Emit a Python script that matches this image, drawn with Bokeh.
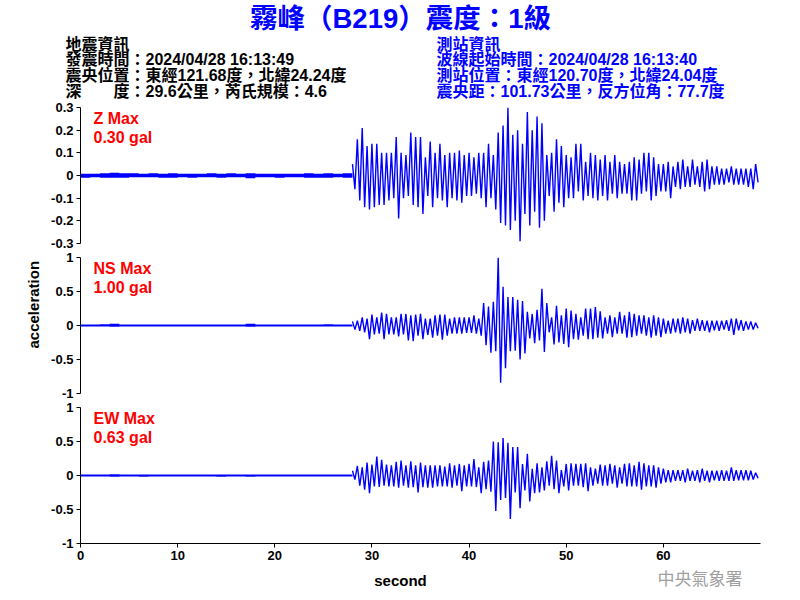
from bokeh.plotting import figure
from bokeh.layouts import column
from bokeh.models import FixedTicker, CustomJSTickFormatter, Label, Range1d, Title
from bokeh.core.properties import value
from bokeh.embed import file_html
from bokeh.resources import INLINE

# ---------------- texts ----------------
TITLE = "霧峰（B219）震度：1級"
QUAKE_INFO = ["地震資訊",
              "發震時間：2024/04/28 16:13:49",
              "震央位置：東經121.68度，北緯24.24度",
              "深　　度：29.6公里，芮氏規模：4.6"]
STATION_INFO = ["測站資訊",
                "波線起始時間：2024/04/28 16:13:40",
                "測站位置：東經120.70度，北緯24.04度",
                "震央距：101.73公里，反方位角：77.7度"]
AGENCY = "中央氣象署"
X_TITLE = "second"
Y_TITLE = "acceleration"

channels = ["Z", "NS", "EW"]
peak_gal = [0.30, 1.00, 0.63]
y_limits = [0.3, 1.0, 1.0]
y_ticks = [[-0.3, -0.2, -0.1, 0, 0.1, 0.2, 0.3],
           [-1, -0.5, 0, 0.5, 1],
           [-1, -0.5, 0, 0.5, 1]]
x_ticks = [0, 10, 20, 30, 40, 50, 60]
t_end = 70.0
onset = 28.0          # s, start of 0.5-s envelope bins
pre_bin = 1.0         # s, pre-event envelope bins
ev_bin = 0.5          # s, event envelope bins

# ---------------- pre-event noise envelope (1-s bins, 0..28 s) ----------------
z_pre_max = [0.008, 0.008, 0.010, 0.012, 0.010, 0.010, 0.008, 0.010, 0.008, 0.010,
             0.008, 0.008, 0.008, 0.010, 0.008, 0.010, 0.008, 0.010, 0.008, 0.008,
             0.008, 0.008, 0.008, 0.010, 0.008, 0.010, 0.008, 0.010]
z_pre_min = [-0.010, -0.008, -0.010, -0.010, -0.010, -0.008, -0.008, -0.008, -0.010, -0.010,
             -0.008, -0.010, -0.008, -0.008, -0.010, -0.008, -0.008, -0.012, -0.008, -0.008,
             -0.010, -0.008, -0.008, -0.010, -0.010, -0.010, -0.008, -0.010]
ns_pre_max = [0.015, 0.015, 0.020, 0.025, 0.015, 0.015, 0.015, 0.015, 0.015, 0.015,
              0.015, 0.015, 0.015, 0.015, 0.015, 0.015, 0.015, 0.025, 0.015, 0.015,
              0.015, 0.015, 0.015, 0.015, 0.015, 0.020, 0.015, 0.015]
ns_pre_min = [-0.015, -0.015, -0.015, -0.020, -0.015, -0.015, -0.015, -0.015, -0.015, -0.015,
              -0.015, -0.015, -0.015, -0.015, -0.015, -0.015, -0.015, -0.020, -0.015, -0.015,
              -0.015, -0.015, -0.015, -0.015, -0.015, -0.015, -0.015, -0.015]
ew_pre_max = [0.015, 0.015, 0.015, 0.020, 0.015, 0.015, 0.015, 0.015, 0.015, 0.015,
              0.015, 0.015, 0.015, 0.015, 0.015, 0.015, 0.015, 0.015, 0.015, 0.015,
              0.015, 0.015, 0.015, 0.015, 0.015, 0.015, 0.015, 0.015]
ew_pre_min = [-0.015, -0.015, -0.015, -0.020, -0.015, -0.015, -0.020, -0.015, -0.015, -0.015,
              -0.015, -0.015, -0.015, -0.015, -0.020, -0.015, -0.015, -0.020, -0.015, -0.015,
              -0.015, -0.015, -0.015, -0.015, -0.015, -0.015, -0.015, -0.015]

# ---------------- event envelope (0.5-s bins, 28..70 s) ----------------
z_max = [0.05, 0.16, 0.21, 0.13, 0.14, 0.14, 0.10, 0.10, 0.10, 0.17,
         0.10, 0.09, 0.19, 0.17, 0.17, 0.08, 0.15, 0.10, 0.14, 0.09,
         0.10, 0.10, 0.11, 0.09, 0.10, 0.08, 0.10, 0.10, 0.14, 0.09,
         0.19, 0.22, 0.30, 0.18, 0.20, 0.14, 0.28, 0.20, 0.26, 0.23,
         0.09, 0.10, 0.16, 0.13, 0.09, 0.08, 0.14, 0.14, 0.06, 0.10,
         0.09, 0.07, 0.09, 0.06, 0.09, 0.06, 0.05, 0.06, 0.08, 0.07,
         0.10, 0.10, 0.08, 0.05, 0.05, 0.06, 0.04, 0.06, 0.07, 0.04,
         0.07, 0.04, 0.06, 0.07, 0.04, 0.04, 0.03, 0.03, 0.04, 0.03,
         0.03, 0.03, 0.03, 0.05]
z_min = [-0.06, -0.11, -0.14, -0.15, -0.14, -0.13, -0.13, -0.11, -0.10, -0.19,
         -0.10, -0.09, -0.13, -0.14, -0.17, -0.09, -0.14, -0.10, -0.11, -0.14,
         -0.10, -0.11, -0.12, -0.09, -0.09, -0.08, -0.10, -0.14, -0.10, -0.15,
         -0.21, -0.22, -0.24, -0.20, -0.29, -0.17, -0.22, -0.16, -0.23, -0.20,
         -0.09, -0.16, -0.12, -0.14, -0.10, -0.10, -0.07, -0.11, -0.09, -0.10,
         -0.11, -0.09, -0.11, -0.08, -0.10, -0.08, -0.08, -0.11, -0.11, -0.08,
         -0.07, -0.11, -0.09, -0.07, -0.07, -0.10, -0.05, -0.06, -0.05, -0.05,
         -0.04, -0.05, -0.07, -0.06, -0.04, -0.04, -0.04, -0.03, -0.04, -0.04,
         -0.04, -0.05, -0.06, -0.03]
ns_max = [0.06, 0.07, 0.12, 0.10, 0.16, 0.12, 0.19, 0.17, 0.12, 0.12,
          0.17, 0.17, 0.15, 0.16, 0.17, 0.10, 0.10, 0.15, 0.16, 0.16,
          0.10, 0.12, 0.12, 0.12, 0.12, 0.15, 0.10, 0.33, 0.28, 0.35,
          1.00, 0.57, 0.42, 0.42, 0.38, 0.36, 0.20, 0.17, 0.23, 0.54,
          0.33, 0.12, 0.29, 0.15, 0.25, 0.22, 0.17, 0.12, 0.25, 0.25,
          0.27, 0.21, 0.12, 0.15, 0.12, 0.20, 0.15, 0.20, 0.17, 0.15,
          0.15, 0.12, 0.15, 0.12, 0.10, 0.07, 0.10, 0.10, 0.12, 0.10,
          0.08, 0.10, 0.08, 0.07, 0.07, 0.07, 0.07, 0.08, 0.10, 0.10,
          0.08, 0.06, 0.06, 0.04]
ns_min = [-0.06, -0.08, -0.10, -0.20, -0.13, -0.12, -0.20, -0.13, -0.13, -0.16,
          -0.13, -0.22, -0.23, -0.15, -0.20, -0.14, -0.18, -0.15, -0.21, -0.15,
          -0.12, -0.12, -0.12, -0.11, -0.11, -0.12, -0.15, -0.29, -0.40, -0.38,
          -0.84, -0.63, -0.38, -0.37, -0.50, -0.41, -0.19, -0.26, -0.22, -0.39,
          -0.10, -0.28, -0.25, -0.27, -0.32, -0.20, -0.21, -0.15, -0.20, -0.20,
          -0.18, -0.19, -0.12, -0.17, -0.12, -0.12, -0.18, -0.17, -0.15, -0.12,
          -0.15, -0.18, -0.15, -0.17, -0.12, -0.12, -0.10, -0.12, -0.10, -0.12,
          -0.08, -0.08, -0.08, -0.10, -0.07, -0.08, -0.06, -0.08, -0.14, -0.07,
          -0.08, -0.06, -0.06, -0.04]
ew_max = [0.07, 0.14, 0.12, 0.19, 0.16, 0.28, 0.23, 0.16, 0.15, 0.20,
          0.22, 0.15, 0.21, 0.15, 0.19, 0.15, 0.15, 0.15, 0.15, 0.13,
          0.18, 0.15, 0.17, 0.15, 0.17, 0.24, 0.12, 0.20, 0.22, 0.50,
          0.49, 0.55, 0.48, 0.42, 0.42, 0.17, 0.32, 0.10, 0.18, 0.12,
          0.21, 0.29, 0.22, 0.08, 0.17, 0.18, 0.17, 0.17, 0.18, 0.12,
          0.10, 0.16, 0.15, 0.17, 0.15, 0.12, 0.17, 0.18, 0.15, 0.20,
          0.18, 0.15, 0.15, 0.12, 0.10, 0.08, 0.08, 0.08, 0.08, 0.10,
          0.07, 0.08, 0.10, 0.07, 0.07, 0.07, 0.08, 0.07, 0.12, 0.08,
          0.08, 0.08, 0.07, 0.04]
ew_min = [-0.06, -0.15, -0.21, -0.26, -0.16, -0.17, -0.15, -0.16, -0.16, -0.18,
          -0.15, -0.18, -0.17, -0.25, -0.17, -0.18, -0.18, -0.16, -0.16, -0.16,
          -0.18, -0.15, -0.23, -0.16, -0.16, -0.17, -0.26, -0.20, -0.24, -0.52,
          -0.36, -0.33, -0.64, -0.25, -0.48, -0.22, -0.38, -0.26, -0.25, -0.22,
          -0.15, -0.20, -0.26, -0.16, -0.22, -0.15, -0.15, -0.17, -0.23, -0.15,
          -0.12, -0.15, -0.15, -0.12, -0.18, -0.12, -0.16, -0.16, -0.16, -0.21,
          -0.16, -0.16, -0.18, -0.12, -0.10, -0.10, -0.08, -0.08, -0.10, -0.08,
          -0.08, -0.10, -0.08, -0.10, -0.07, -0.08, -0.08, -0.08, -0.08, -0.07,
          -0.07, -0.07, -0.06, -0.04]

pre_max = [z_pre_max, ns_pre_max, ew_pre_max]
pre_min = [z_pre_min, ns_pre_min, ew_pre_min]
ev_max = [z_max, ns_max, ew_max]
ev_min = [z_min, ns_min, ew_min]

# ---------------- style / layout ----------------
BLUE = "#0000FF"
LATIN = "Liberation Sans"
MIXED = "Liberation Sans, Noto Sans CJK TC"
W = 800
FRAME_L, FRAME_W = 80, 680
FRAME_H = 136


def event_trace(emax, emin):
    # each bin's max then min, joined into one trace
    t, a = [], []
    for i, (hi, lo) in enumerate(zip(emax, emin)):
        t0 = onset + i * ev_bin
        t += [t0, t0 + ev_bin / 2]
        a += [hi, lo]
    return t, a


def style_axis(ax):
    ax.axis_line_color = "black"
    ax.axis_line_width = 1
    ax.major_tick_line_color = "black"
    ax.major_tick_out = 4
    ax.major_tick_in = 0
    ax.minor_tick_line_color = None
    ax.major_label_text_font = LATIN
    ax.major_label_text_font_size = "13px"
    ax.major_label_text_font_style = "bold"
    ax.major_label_text_color = "black"
    ax.major_label_standoff = 3


def blank(height):
    p = figure(frame_width=W, frame_height=height, output_backend="svg",
               toolbar_location=None, x_range=Range1d(0, W), y_range=Range1d(height, 0),
               x_axis_location=None, y_axis_location=None, min_border=0,
               min_border_left=0, min_border_right=0, min_border_top=0, min_border_bottom=0,
               frame_align=False)
    p.outline_line_color = None
    p.grid.visible = False
    return p


fmt_code = "return String(Math.round(tick*10)/10);"

panels = []
bottoms = [7, 7, 22]
for i, ch in enumerate(channels):
    last = i == len(channels) - 1
    lim = y_limits[i]
    p = figure(frame_width=FRAME_W, frame_height=FRAME_H, output_backend="svg",
               toolbar_location=None,
               x_range=Range1d(0, t_end), y_range=Range1d(-lim, lim),
               x_axis_location="below" if last else None,
               min_border_left=FRAME_L, min_border_right=W - FRAME_L - FRAME_W,
               min_border_top=7, min_border_bottom=bottoms[i], frame_align=False)
    p.outline_line_color = None
    p.grid.visible = False
    style_axis(p.yaxis[0])
    p.yaxis[0].ticker = FixedTicker(ticks=y_ticks[i])
    p.yaxis[0].formatter = CustomJSTickFormatter(code=fmt_code)
    if last:
        style_axis(p.xaxis[0])
        p.xaxis[0].ticker = FixedTicker(ticks=x_ticks)
        p.xaxis[0].formatter = CustomJSTickFormatter(code=fmt_code)

    # quiet pre-event noise band
    edges = [k * pre_bin for k in range(len(pre_max[i]))] + [onset]
    p.varea_step(x=edges, y1=pre_min[i] + [pre_min[i][-1]], y2=pre_max[i] + [pre_max[i][-1]],
                 step_mode="after", fill_color=BLUE)
    # shaking
    t, a = event_trace(ev_max[i], ev_min[i])
    p.line(t, a, line_color=BLUE, line_width=1.4)

    for txt, fy in [(f"{ch} Max", 0.835), (f"{peak_gal[i]:.2f} gal", 0.557)]:
        p.add_layout(Label(x=1.34, y=lim * fy, text=txt, text_font=LATIN,
                           text_font_size="16px", text_font_style="bold",
                           text_color="#FF0000", text_align="left",
                           text_baseline="middle"))
    panels.append(p)

# y-axis title on the middle panel, shifted up like the reference
panels[1].add_layout(Title(text=Y_TITLE, align="left", offset=45, standoff=14,
                           text_font=LATIN, text_font_size="15px", text_font_style="bold",
                           text_color="black"), "left")

# ---------------- header ----------------
hdr = blank(100)
hdr.text(x=[400], y=[18], text=[TITLE], text_font=value(MIXED), text_font_size="27.5px",
         text_font_style="bold", text_color=BLUE, text_align="center", text_baseline="middle")
line_y = [43.5, 59.2, 74.9, 90.6]
hdr.text(x=[65] * 4, y=line_y, text=QUAKE_INFO, text_font=value(MIXED), text_font_size="16px",
         text_font_style="bold", text_color="black", text_align="left", text_baseline="middle")
hdr.text(x=[436] * 4, y=line_y, text=STATION_INFO, text_font=value(MIXED), text_font_size="16px",
         text_font_style="bold", text_color=BLUE, text_align="left", text_baseline="middle")

# ---------------- footer ----------------
ftr = blank(35)
ftr.text(x=[400], y=[15], text=[X_TITLE], text_font=value(LATIN), text_font_size="15px",
         text_font_style="bold", text_color="black", text_align="center", text_baseline="middle")
ftr.text(x=[657], y=[12], text=[AGENCY], text_font=value("Noto Sans CJK TC"),
         text_font_size="17px", text_color="#A0A0A0", text_align="left", text_baseline="middle")

layout = column(hdr, *panels, ftr, spacing=0)
open("out.html", "w").write(file_html(layout, INLINE))
